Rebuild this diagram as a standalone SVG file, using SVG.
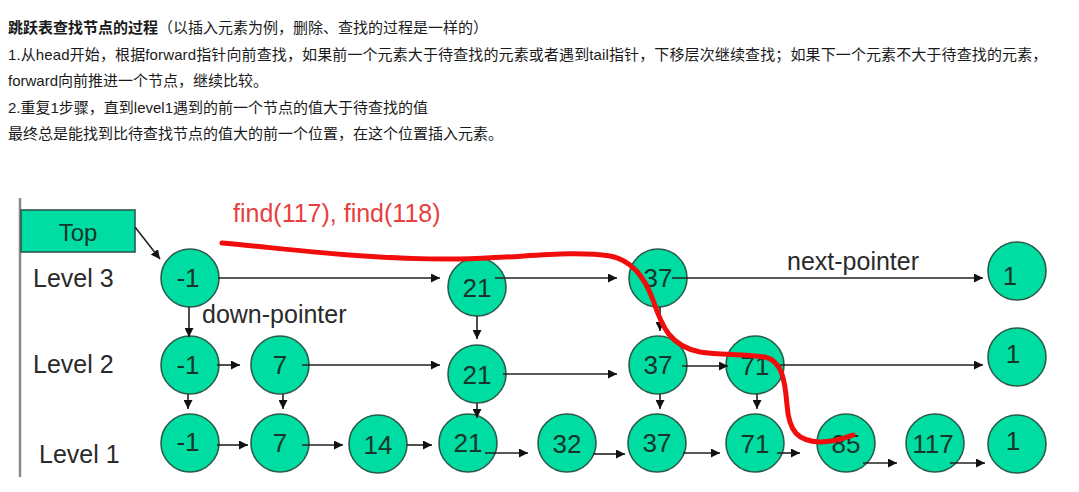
<svg xmlns="http://www.w3.org/2000/svg" width="1079" height="492" viewBox="0 0 1079 492">
<style>
.p{font-family:"Liberation Sans","Noto Sans CJK SC",sans-serif;font-size:15px;fill:#1a1a1a}
.b{font-weight:bold}
.lbl{font-family:"Liberation Sans",Arial,sans-serif;font-size:25px;fill:#2a2a2a}
.nd circle{fill:#00DDA2;stroke:#2b5b4b;stroke-width:1.6}
.nd text{font-family:"Liberation Sans",Arial,sans-serif;font-size:26px;fill:#17362b;text-anchor:middle}
.c line{stroke:#222;stroke-width:1.6;marker-end:url(#ah)}
.red{fill:none;stroke:#f20d0d;stroke-width:5;stroke-linecap:round;stroke-linejoin:round}
</style>
<defs>
<marker id="ah" markerUnits="userSpaceOnUse" markerWidth="10" markerHeight="9" refX="9" refY="4.5" orient="auto">
<path d="M0,0 L9,4.5 L0,9 z" fill="#111"/>
</marker>
</defs>
<rect width="1079" height="492" fill="#fff"/>
<g id="text">
<text class="p" x="8" y="33"><tspan class="b">跳跃表查找节点的过程</tspan>（以插入元素为例，删除、查找的过程是一样的）</text>
<text class="p" x="8" y="60" letter-spacing="0.12">1.从head开始，根据forward指针向前查找，如果前一个元素大于待查找的元素或者遇到tail指针，下移层次继续查找；如果下一个元素不大于待查找的元素，</text>
<text class="p" x="8" y="86">forward向前推进一个节点，继续比较。</text>
<text class="p" x="8" y="113">2.重复1步骤，直到level1遇到的前一个节点的值大于待查找的值</text>
<text class="p" x="8" y="139">最终总是能找到比待查找节点的值大的前一个位置，在这个位置插入元素。</text>
</g>
<line x1="20" y1="198" x2="20" y2="477" stroke="#8a8a8a" stroke-width="2.5"/>
<g id="top">
<rect x="21" y="210" width="114" height="42" fill="#00DDA2" stroke="#2b5b4b" stroke-width="1.6"/>
<text x="78" y="241" font-family="Liberation Sans,Arial,sans-serif" font-size="24" fill="#17362b" text-anchor="middle">Top</text>
</g>
<g id="labels">
<text class="lbl" x="33" y="287">Level 3</text>
<text class="lbl" x="33" y="373">Level 2</text>
<text class="lbl" x="39" y="463">Level 1</text>
<text class="lbl" x="202" y="323">down-pointer</text>
<text class="lbl" x="787" y="270">next-pointer</text>
</g>
<g id="n3_m1" class="nd"><circle cx="190" cy="278" r="29"/><text x="188" y="287">-1</text></g>
<g id="n3_21" class="nd"><circle cx="477" cy="287" r="29"/><text x="477" y="297">21</text></g>
<g id="n3_37" class="nd"><circle cx="658" cy="278" r="29"/><text x="658" y="287">37</text></g>
<g id="n3_1" class="nd"><circle cx="1017" cy="271" r="29"/><text x="1010" y="285">1</text></g>
<g id="n2_m1" class="nd"><circle cx="190" cy="365" r="29"/><text x="188" y="374">-1</text></g>
<g id="n2_7" class="nd"><circle cx="280" cy="365" r="29"/><text x="280" y="374">7</text></g>
<g id="n2_21" class="nd"><circle cx="477" cy="374" r="29"/><text x="477" y="384">21</text></g>
<g id="n2_37" class="nd"><circle cx="658" cy="365" r="29"/><text x="658" y="374">37</text></g>
<g id="n2_71" class="nd"><circle cx="755" cy="365" r="29"/><text x="755" y="375">71</text></g>
<g id="n2_1" class="nd"><circle cx="1017" cy="357" r="29"/><text x="1013" y="363">1</text></g>
<g id="n1_m1" class="nd"><circle cx="190" cy="443" r="29"/><text x="188" y="451">-1</text></g>
<g id="n1_7" class="nd"><circle cx="280" cy="443" r="29"/><text x="280" y="452">7</text></g>
<g id="n1_14" class="nd"><circle cx="378" cy="444" r="29"/><text x="378" y="454">14</text></g>
<g id="n1_21" class="nd"><circle cx="468" cy="443" r="29"/><text x="468" y="452">21</text></g>
<g id="n1_32" class="nd"><circle cx="567" cy="443" r="29"/><text x="567" y="453">32</text></g>
<g id="n1_37" class="nd"><circle cx="657" cy="443" r="29"/><text x="657" y="452">37</text></g>
<g id="n1_71" class="nd"><circle cx="755" cy="443" r="29"/><text x="755" y="453">71</text></g>
<g id="n1_85" class="nd"><circle cx="846" cy="443" r="29"/><text x="846" y="453">85</text></g>
<g id="n1_117" class="nd"><circle cx="935" cy="443" r="29"/><text x="933" y="453">117</text></g>
<g id="n1_1" class="nd"><circle cx="1017" cy="444" r="29"/><text x="1013" y="450">1</text></g>
<g id="connectors" class="c">
<line x1="135" y1="227" x2="160" y2="259"/>
<line x1="218" y1="278" x2="440" y2="278"/>
<line x1="495" y1="278" x2="617" y2="278"/>
<line x1="672" y1="278" x2="983" y2="278"/>
<line x1="217" y1="365" x2="240" y2="365"/>
<line x1="302" y1="365" x2="440" y2="365"/>
<line x1="503" y1="374" x2="617" y2="374"/>
<line x1="682" y1="366" x2="728" y2="366"/>
<line x1="780" y1="365" x2="983" y2="365"/>
<line x1="217" y1="445" x2="248" y2="445"/>
<line x1="302" y1="445" x2="343" y2="445"/>
<line x1="407" y1="445" x2="432" y2="445"/>
<line x1="485" y1="453" x2="528" y2="453"/>
<line x1="593" y1="454" x2="625" y2="454"/>
<line x1="683" y1="453" x2="720" y2="453"/>
<line x1="777" y1="453" x2="800" y2="453"/>
<line x1="863" y1="463" x2="897" y2="463"/>
<line x1="950" y1="463" x2="985" y2="463"/>
<line x1="189" y1="307" x2="189" y2="337"/>
<line x1="188" y1="394" x2="188" y2="409"/>
<line x1="283" y1="394" x2="283" y2="409"/>
<line x1="477" y1="316" x2="477" y2="339"/>
<line x1="477" y1="403" x2="477" y2="418"/>
<line x1="660" y1="307" x2="660" y2="331"/>
<line x1="660" y1="394" x2="660" y2="409"/>
<line x1="757" y1="394" x2="757" y2="409"/>
</g>
<g id="search">
<text x="233" y="222" font-family="Liberation Sans,Arial,sans-serif" font-size="25" fill="#e8403f">find(117), find(118)</text>
<path class="red" d="M222,243 C290,249 370,260 460,259 C520,258 570,250 610,256 C632,260 645,278 653,300 C662,327 670,346 700,352 C720,355 740,354 765,357 C782,361 785,380 787,405 C789,432 798,441 820,442 C835,442 845,438 853,435"/>
</g>
</svg>
